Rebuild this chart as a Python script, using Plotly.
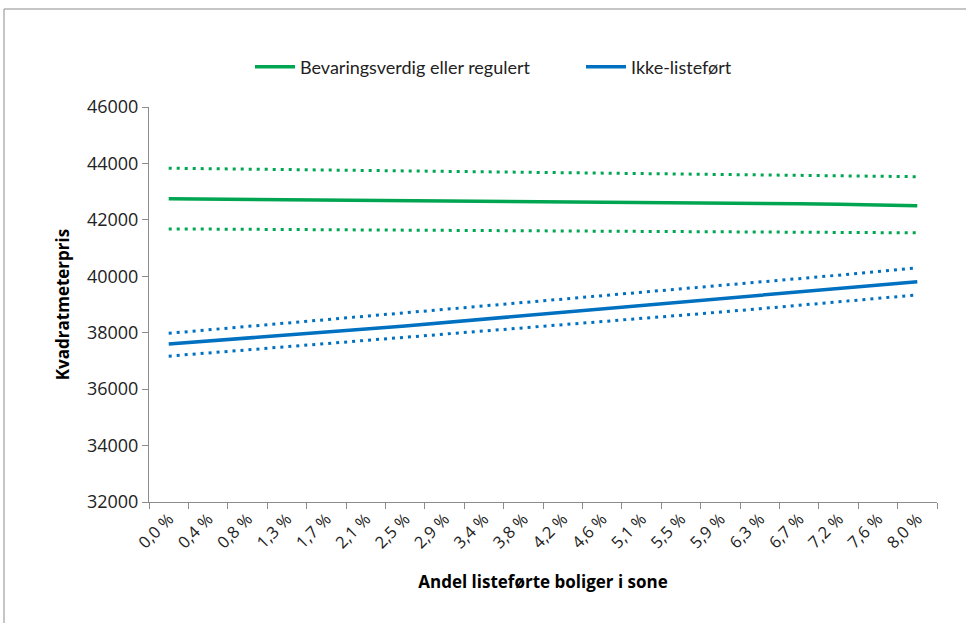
import plotly.graph_objects as go

categories = ["0,0 %", "0,4 %", "0,8 %", "1,3 %", "1,7 %", "2,1 %", "2,5 %", "2,9 %", "3,4 %", "3,8 %",
              "4,2 %", "4,6 %", "5,1 %", "5,5 %", "5,9 %", "6,3 %", "6,7 %", "7,2 %", "7,6 %", "8,0 %"]

green_mid = [42750, 42740, 42730, 42720, 42710, 42700, 42690, 42680, 42670, 42660,
             42650, 42640, 42620, 42610, 42600, 42590, 42570, 42550, 42530, 42500]
green_hi = [43830, 43815, 43800, 43785, 43770, 43755, 43740, 43725, 43710, 43695,
            43680, 43665, 43650, 43635, 43620, 43605, 43590, 43570, 43550, 43530]
green_lo = [41680, 41672, 41665, 41658, 41650, 41643, 41636, 41628, 41620, 41613,
            41605, 41598, 41590, 41583, 41575, 41568, 41560, 41553, 41546, 41540]

blue_mid = [37600, 37700, 37800, 37900, 38020, 38130, 38240, 38360, 38470, 38590,
            38710, 38830, 38950, 39070, 39190, 39320, 39440, 39560, 39680, 39810]
blue_hi = [37980, 38100, 38220, 38340, 38460, 38580, 38700, 38820, 38940, 39060,
           39180, 39300, 39420, 39550, 39670, 39790, 39920, 40040, 40170, 40300]
blue_lo = [37170, 37280, 37390, 37500, 37610, 37720, 37830, 37940, 38050, 38160,
           38270, 38380, 38490, 38610, 38730, 38850, 38970, 39090, 39210, 39340]

GREEN = "#00A551"
BLUE = "#0070C0"
DOT = "3px,5px"

fig = go.Figure()
fig.add_trace(go.Scatter(x=categories, y=green_hi, mode="lines", line=dict(color=GREEN, width=3, dash=DOT), showlegend=False, hoverinfo="skip"))
fig.add_trace(go.Scatter(x=categories, y=green_lo, mode="lines", line=dict(color=GREEN, width=3, dash=DOT), showlegend=False, hoverinfo="skip"))
fig.add_trace(go.Scatter(x=categories, y=blue_hi, mode="lines", line=dict(color=BLUE, width=3, dash=DOT), showlegend=False, hoverinfo="skip"))
fig.add_trace(go.Scatter(x=categories, y=blue_lo, mode="lines", line=dict(color=BLUE, width=3, dash=DOT), showlegend=False, hoverinfo="skip"))
fig.add_trace(go.Scatter(x=categories, y=green_mid, mode="lines", name="Bevaringsverdig eller regulert", line=dict(color=GREEN, width=3.5)))
fig.add_trace(go.Scatter(x=categories, y=blue_mid, mode="lines", name="Ikke-listeført", line=dict(color=BLUE, width=3.5)))

L, R, T, B = 149, 29, 107, 121
W, H = 966, 623
pw, ph = W - L - R, H - T - B

fig.update_layout(
    width=W, height=H,
    margin=dict(l=L, r=R, t=T, b=B),
    paper_bgcolor="white", plot_bgcolor="white",
    font=dict(family="Open Sans, Lato, sans-serif", color="#222222"),
    legend=dict(orientation="h", x=(581 - L) / pw, xanchor="center", y=1 + (T - 67) / ph, yanchor="middle",
                font=dict(family="Lato, sans-serif", size=18, color="#222222"),
                entrywidth=276, entrywidthmode="pixels", itemwidth=40, tracegroupgap=0, bgcolor="rgba(0,0,0,0)"),
    xaxis=dict(type="category", range=[-0.5, 19.5], showgrid=False, showline=True, linecolor="#8c8c8c", linewidth=1,
               ticks="outside", tickson="boundaries", ticklen=6, tickcolor="#8c8c8c", tickangle=-45,
               tickfont=dict(size=16.5, color="#222222"),
               title=dict(text="<b>Andel listeførte boliger i sone</b>", font=dict(size=17, color="#000000"), standoff=24)),
    yaxis=dict(range=[32000, 46000], dtick=2000, showgrid=False, showline=True, linecolor="#8c8c8c", linewidth=1,
               ticks="outside", ticklen=6, tickcolor="#8c8c8c", tickformat="d",
               tickfont=dict(size=18, color="#222222"),
               title=dict(text="<b>Kvadratmeterpris</b>", font=dict(size=17, color="#000000"), standoff=12)),
    shapes=[dict(type="rect", xref="paper", yref="paper",
                 x0=(4 - L) / pw, x1=(W + 10 - L) / pw, y0=-(H + 10 - T - ph) / ph, y1=1 + (T - 9) / ph,
                 line=dict(color="#8c8c8c", width=1), fillcolor="rgba(0,0,0,0)", layer="below")],
)

fig.write_html("out.html")
